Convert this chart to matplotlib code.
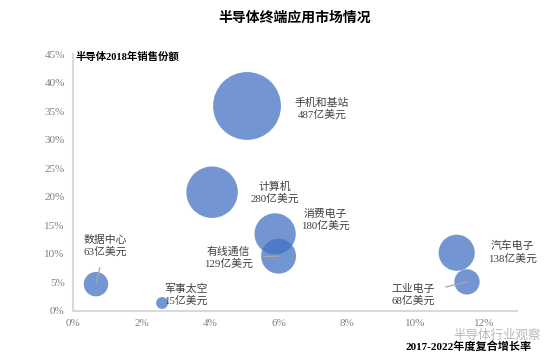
import matplotlib
matplotlib.use("Agg")
import matplotlib.pyplot as plt
from matplotlib.ticker import FuncFormatter, MultipleLocator

plt.rcParams['font.family'] = ['Noto Sans CJK SC', 'DejaVu Sans']
MIX = ['Liberation Serif', 'Noto Sans CJK SC']

categories = ['手机和基站', '计算机', '消费电子', '有线通信', '数据中心', '军事太空', '汽车电子', '工业电子']
growth = [5.08, 4.06, 5.90, 6.00, 0.67, 2.60, 11.20, 11.50]   # CAGR 2017-2022, %
share = [35.9, 20.8, 13.5, 9.6, 4.7, 1.4, 10.2, 5.1]          # 2018 share, %
sales = [487, 280, 180, 129, 63, 15, 138, 68]                  # 2018 sales, 亿美元
label_x = [7.27, 5.90, 7.36, 4.53, 0.93, 3.30, 12.82, 9.93]
label_y = [35.4, 20.7, 15.9, 9.3, 11.4, 2.8, 10.3, 2.8]
leader = [False, False, False, True, True, False, False, True]

fig = plt.figure(figsize=(5.59, 3.63), dpi=100)
ax = fig.add_axes([73/559, 1-311/363, (517-73)/559, (311-54)/363])

ax.scatter(growth, share, s=[v*4.9 for v in sales], color='#4472C4', alpha=0.75,
           edgecolors='none', zorder=3)

for i, name in enumerate(categories):
    txt = f"{name}\n{sales[i]}亿美元"
    if leader[i]:
        ax.annotate(txt, xy=(growth[i], share[i]), xytext=(label_x[i], label_y[i]),
                    ha='center', va='center', fontsize=7.8, color='#404040',
                    linespacing=1.2, family=MIX,
                    arrowprops=dict(arrowstyle='-', color='#a6a6a6', lw=0.9,
                                    shrinkA=6, shrinkB=0), zorder=4)
    else:
        ax.text(label_x[i], label_y[i], txt, ha='center', va='center', fontsize=7.8,
                color='#404040', linespacing=1.2, family=MIX, zorder=4)

ax.set_xlim(0, 12.96)
ax.set_ylim(0, 45)
ax.xaxis.set_major_locator(MultipleLocator(2))
ax.yaxis.set_major_locator(MultipleLocator(5))
ax.xaxis.set_major_formatter(FuncFormatter(lambda v, p: f"{v:.0f}%"))
ax.yaxis.set_major_formatter(FuncFormatter(lambda v, p: f"{v:.0f}%"))
ax.tick_params(length=0, labelsize=8, labelcolor='#808080', pad=6)
for lab in ax.get_xticklabels() + ax.get_yticklabels():
    lab.set_family('Liberation Serif')
for s in ['top', 'right']:
    ax.spines[s].set_visible(False)
for s in ['left', 'bottom']:
    ax.spines[s].set_color('#d9d9d9')
    ax.spines[s].set_linewidth(1.5)

fig.text(295/559, 1-18/363, '半导体终端应用市场情况', ha='center', va='center',
         fontsize=10, fontweight='bold', color='#000000')
fig.text(76/559, 1-57/363, '半导体2018年销售份额', ha='left', va='center',
         fontsize=7.5, fontweight='bold', color='#000000', family=MIX)
fig.text(469/559, 1-346/363, '2017-2022年度复合增长率', ha='center', va='center',
         fontsize=8, fontweight='bold', color='#000000', family=MIX)
fig.text(497/559, 1-335/363, '半导体行业观察', ha='center', va='center',
         fontsize=9, color='#b0b0b0', alpha=0.9)

fig.savefig('out.png', dpi=100)
